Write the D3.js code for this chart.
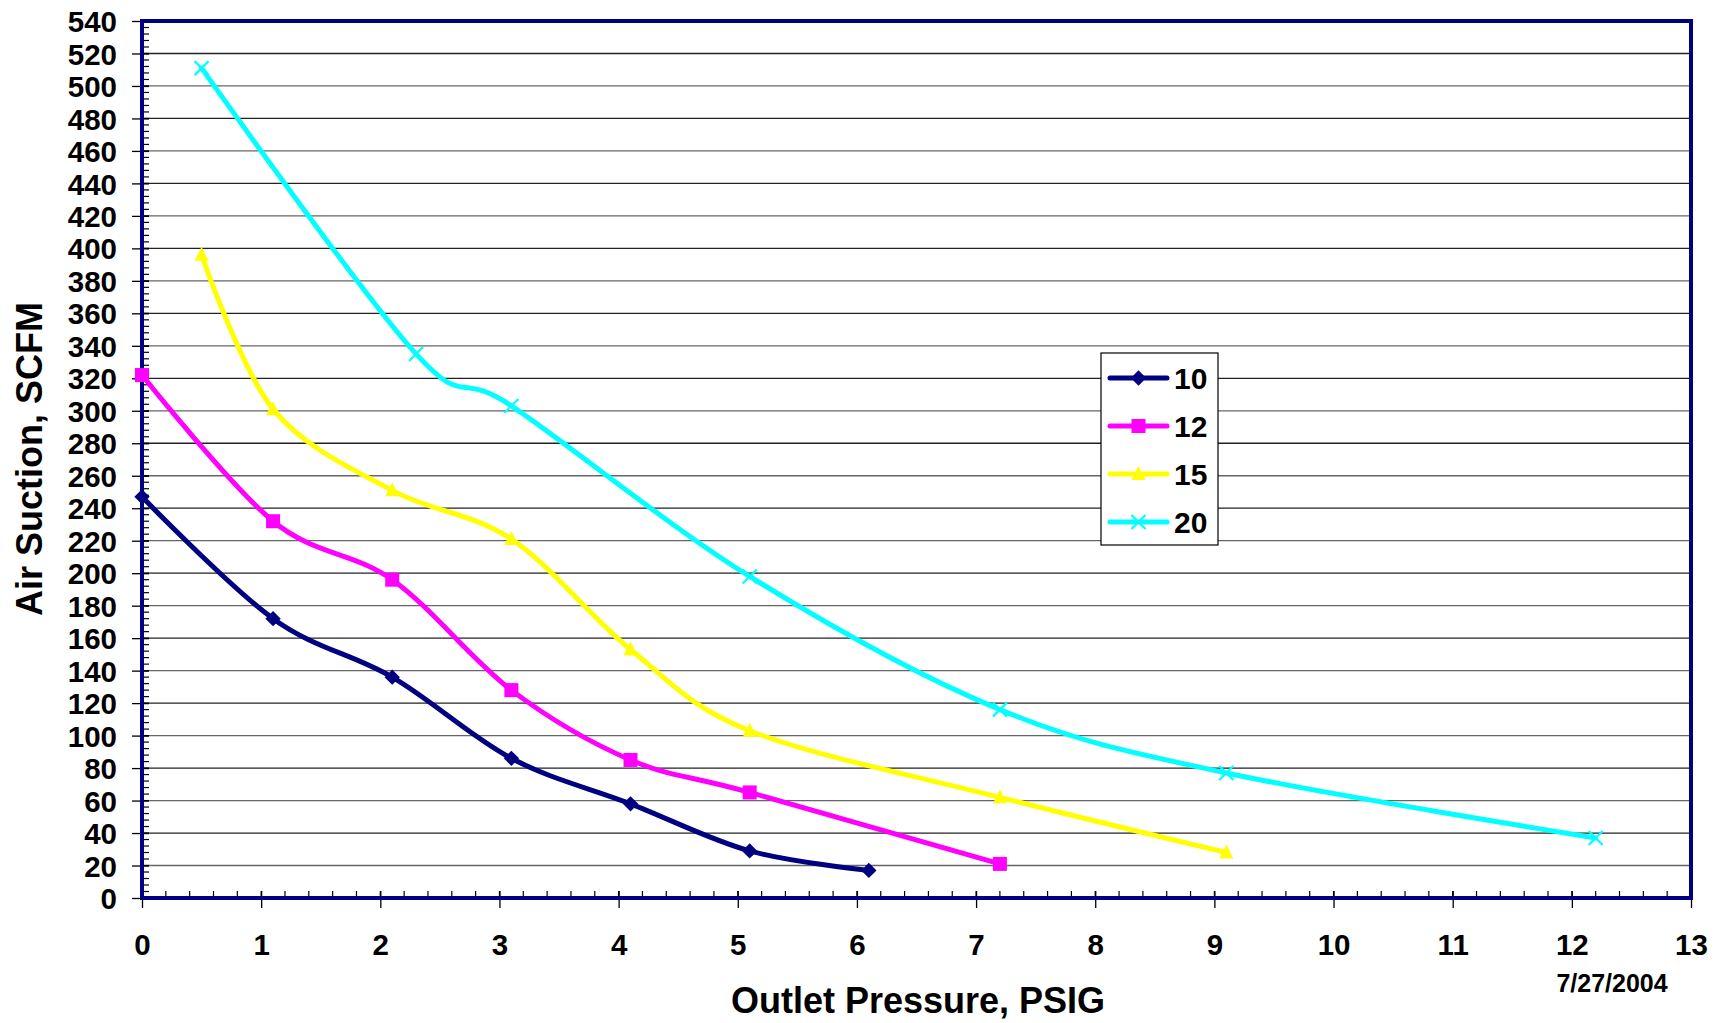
<!DOCTYPE html>
<html><head><meta charset="utf-8">
<script src="https://cdn.jsdelivr.net/npm/d3@7"></script>
<style>
html,body{margin:0;padding:0;background:#fff;}
text{font-family:"Liberation Sans",Arial,sans-serif;font-weight:bold;fill:#000;}
</style></head>
<body>
<svg id="chart" width="1723" height="1023"></svg>
<script>
// ---- data ----
const seriesNames = ["10", "12", "15", "20"];
const seriesColors = ["#000080", "#FF00FF", "#FFFF00", "#00FFFF"];
const seriesMarkers = ["diamond", "square", "triangle", "cross"];
const pressure10 = [0, 1.1, 2.1, 3.1, 4.1, 5.1, 6.1];
const suction10  = [247, 172, 136, 86, 58, 29, 17];
const pressure12 = [0, 1.1, 2.1, 3.1, 4.1, 5.1, 7.2];
const suction12  = [322, 232, 196, 128, 85, 65, 21];
const pressure15 = [0.5, 1.1, 2.1, 3.1, 4.1, 5.1, 7.2, 9.1];
const suction15  = [396, 301, 251, 221, 153, 103, 62, 28];
const pressure20 = [0.5, 2.3, 3.1, 5.1, 7.2, 9.1, 12.2];
const suction20  = [511, 335, 303, 198, 116, 77, 37];
const xTicks = [0,1,2,3,4,5,6,7,8,9,10,11,12,13];
const yTicks = d3.range(0, 541, 20);
const xTitle = "Outlet Pressure, PSIG";
const yTitle = "Air Suction, SCFM";
const dateNote = "7/27/2004";

const allX = [pressure10, pressure12, pressure15, pressure20];
const allY = [suction10, suction12, suction15, suction20];
const series = seriesNames.map((n, i) => ({
  name: n, color: seriesColors[i], marker: seriesMarkers[i],
  pts: allX[i].map((x, j) => ({x: x, y: allY[i][j]}))
}));

// ---- layout ----
const L = 142, R = 1691, T = 21, B = 898;
const svg = d3.select("#chart");
const x = d3.scaleLinear().domain([0, 13]).range([L, R]);
const y = d3.scaleLinear().domain([0, 540]).range([B, T]);

// gridlines
svg.append("g").selectAll("line").data(yTicks.filter(v => v > 0 && v < 540)).join("line")
  .attr("x1", L).attr("x2", R).attr("y1", d => y(d)).attr("y2", d => y(d))
  .attr("stroke", (d, i) => i % 2 ? "#222" : "#666").attr("stroke-width", 1.3);

// minor ticks (inside)
svg.append("g").selectAll("line").data(d3.range(0, 540, 4)).join("line")
  .attr("x1", L).attr("x2", L + 7).attr("y1", d => y(d)).attr("y2", d => y(d))
  .attr("stroke", "#000").attr("stroke-width", 1.2);
svg.append("g").selectAll("line").data(d3.range(0, 13.001, 0.2)).join("line")
  .attr("y1", B).attr("y2", B - 7).attr("x1", d => x(d)).attr("x2", d => x(d))
  .attr("stroke", "#000").attr("stroke-width", 1.2);

// axes
const yAxis = d3.axisLeft(y).tickValues(yTicks).tickSize(10).tickPadding(14).tickFormat(d3.format("d"));
const gy = svg.append("g").attr("transform", `translate(${L},0)`).call(yAxis);
gy.select(".domain").remove();
gy.selectAll(".tick line").attr("x2", -10).attr("x1", 7).attr("stroke", "#000").attr("stroke-width", 1.3);
gy.selectAll(".tick text").style("font-size", "29.5px").attr("x", -25).attr("dy", "0.36em");

const xAxis = d3.axisBottom(x).tickValues(xTicks).tickSize(10).tickFormat(d3.format("d"));
const gx = svg.append("g").attr("transform", `translate(0,${B})`).call(xAxis);
gx.select(".domain").remove();
gx.selectAll(".tick line").attr("y1", -7).attr("y2", 10).attr("stroke", "#000").attr("stroke-width", 1.3);
gx.selectAll(".tick text").style("font-size", "29.5px").attr("y", 46).attr("dy", "0.36em");

// plot border
svg.append("rect").attr("x", L).attr("y", T).attr("width", R - L).attr("height", B - T)
  .attr("fill", "none").attr("stroke", "#000080").attr("stroke-width", 4);

// lines
const line = d3.line().x(d => x(d.x)).y(d => y(d.y)).curve(d3.curveCatmullRom.alpha(0));
const gs = svg.append("g");
series.forEach(s => {
  gs.append("path").datum(s.pts).attr("d", line).attr("fill", "none")
    .attr("stroke", s.color).attr("stroke-width", 5).attr("stroke-linejoin", "round").attr("stroke-linecap", "round");
});

function drawMarker(g, type, color, cx, cy) {
  if (type === "diamond") {
    g.append("path").attr("d", d3.symbol(d3.symbolDiamond2, 150)())
      .attr("transform", `translate(${cx},${cy})`).attr("fill", color);
  } else if (type === "square") {
    g.append("rect").attr("x", cx - 7).attr("y", cy - 7).attr("width", 14).attr("height", 14).attr("fill", color);
  } else if (type === "triangle") {
    g.append("path").attr("d", `M${cx},${cy - 8}L${cx + 7},${cy + 6}L${cx - 7},${cy + 6}Z`).attr("fill", color);
  } else {
    g.append("path").attr("d", `M${cx - 7},${cy - 7}L${cx + 7},${cy + 7}M${cx - 7},${cy + 7}L${cx + 7},${cy - 7}`)
      .attr("stroke", color).attr("stroke-width", 2.2).attr("fill", "none");
  }
}
series.forEach(s => {
  const g = svg.append("g");
  s.pts.forEach(p => drawMarker(g, s.marker, s.color, x(p.x), y(p.y)));
});

// legend
const lg = svg.append("g");
lg.append("rect").attr("x", 1101).attr("y", 353).attr("width", 117).attr("height", 192)
  .attr("fill", "#fff").attr("stroke", "#000").attr("stroke-width", 1.2);
series.forEach((s, i) => {
  const ly = 378 + i * 48;
  lg.append("line").attr("x1", 1110).attr("x2", 1167).attr("y1", ly).attr("y2", ly)
    .attr("stroke", s.color).attr("stroke-width", 5).attr("stroke-linecap", "round");
  drawMarker(lg, s.marker, s.color, 1138.5, ly);
  lg.append("text").attr("x", 1174).attr("y", ly).attr("dy", "0.36em").style("font-size", "30px").text(s.name);
});

// titles
svg.append("text").attr("x", 918).attr("y", 1013).attr("text-anchor", "middle").style("font-size", "36px").text(xTitle);
svg.append("text").attr("transform", "translate(42,459) rotate(-90)").attr("text-anchor", "middle")
  .style("font-size", "36px").text(yTitle);
svg.append("text").attr("x", 1612).attr("y", 992).attr("text-anchor", "middle").style("font-size", "25px").text(dateNote);
</script>
</body></html>
